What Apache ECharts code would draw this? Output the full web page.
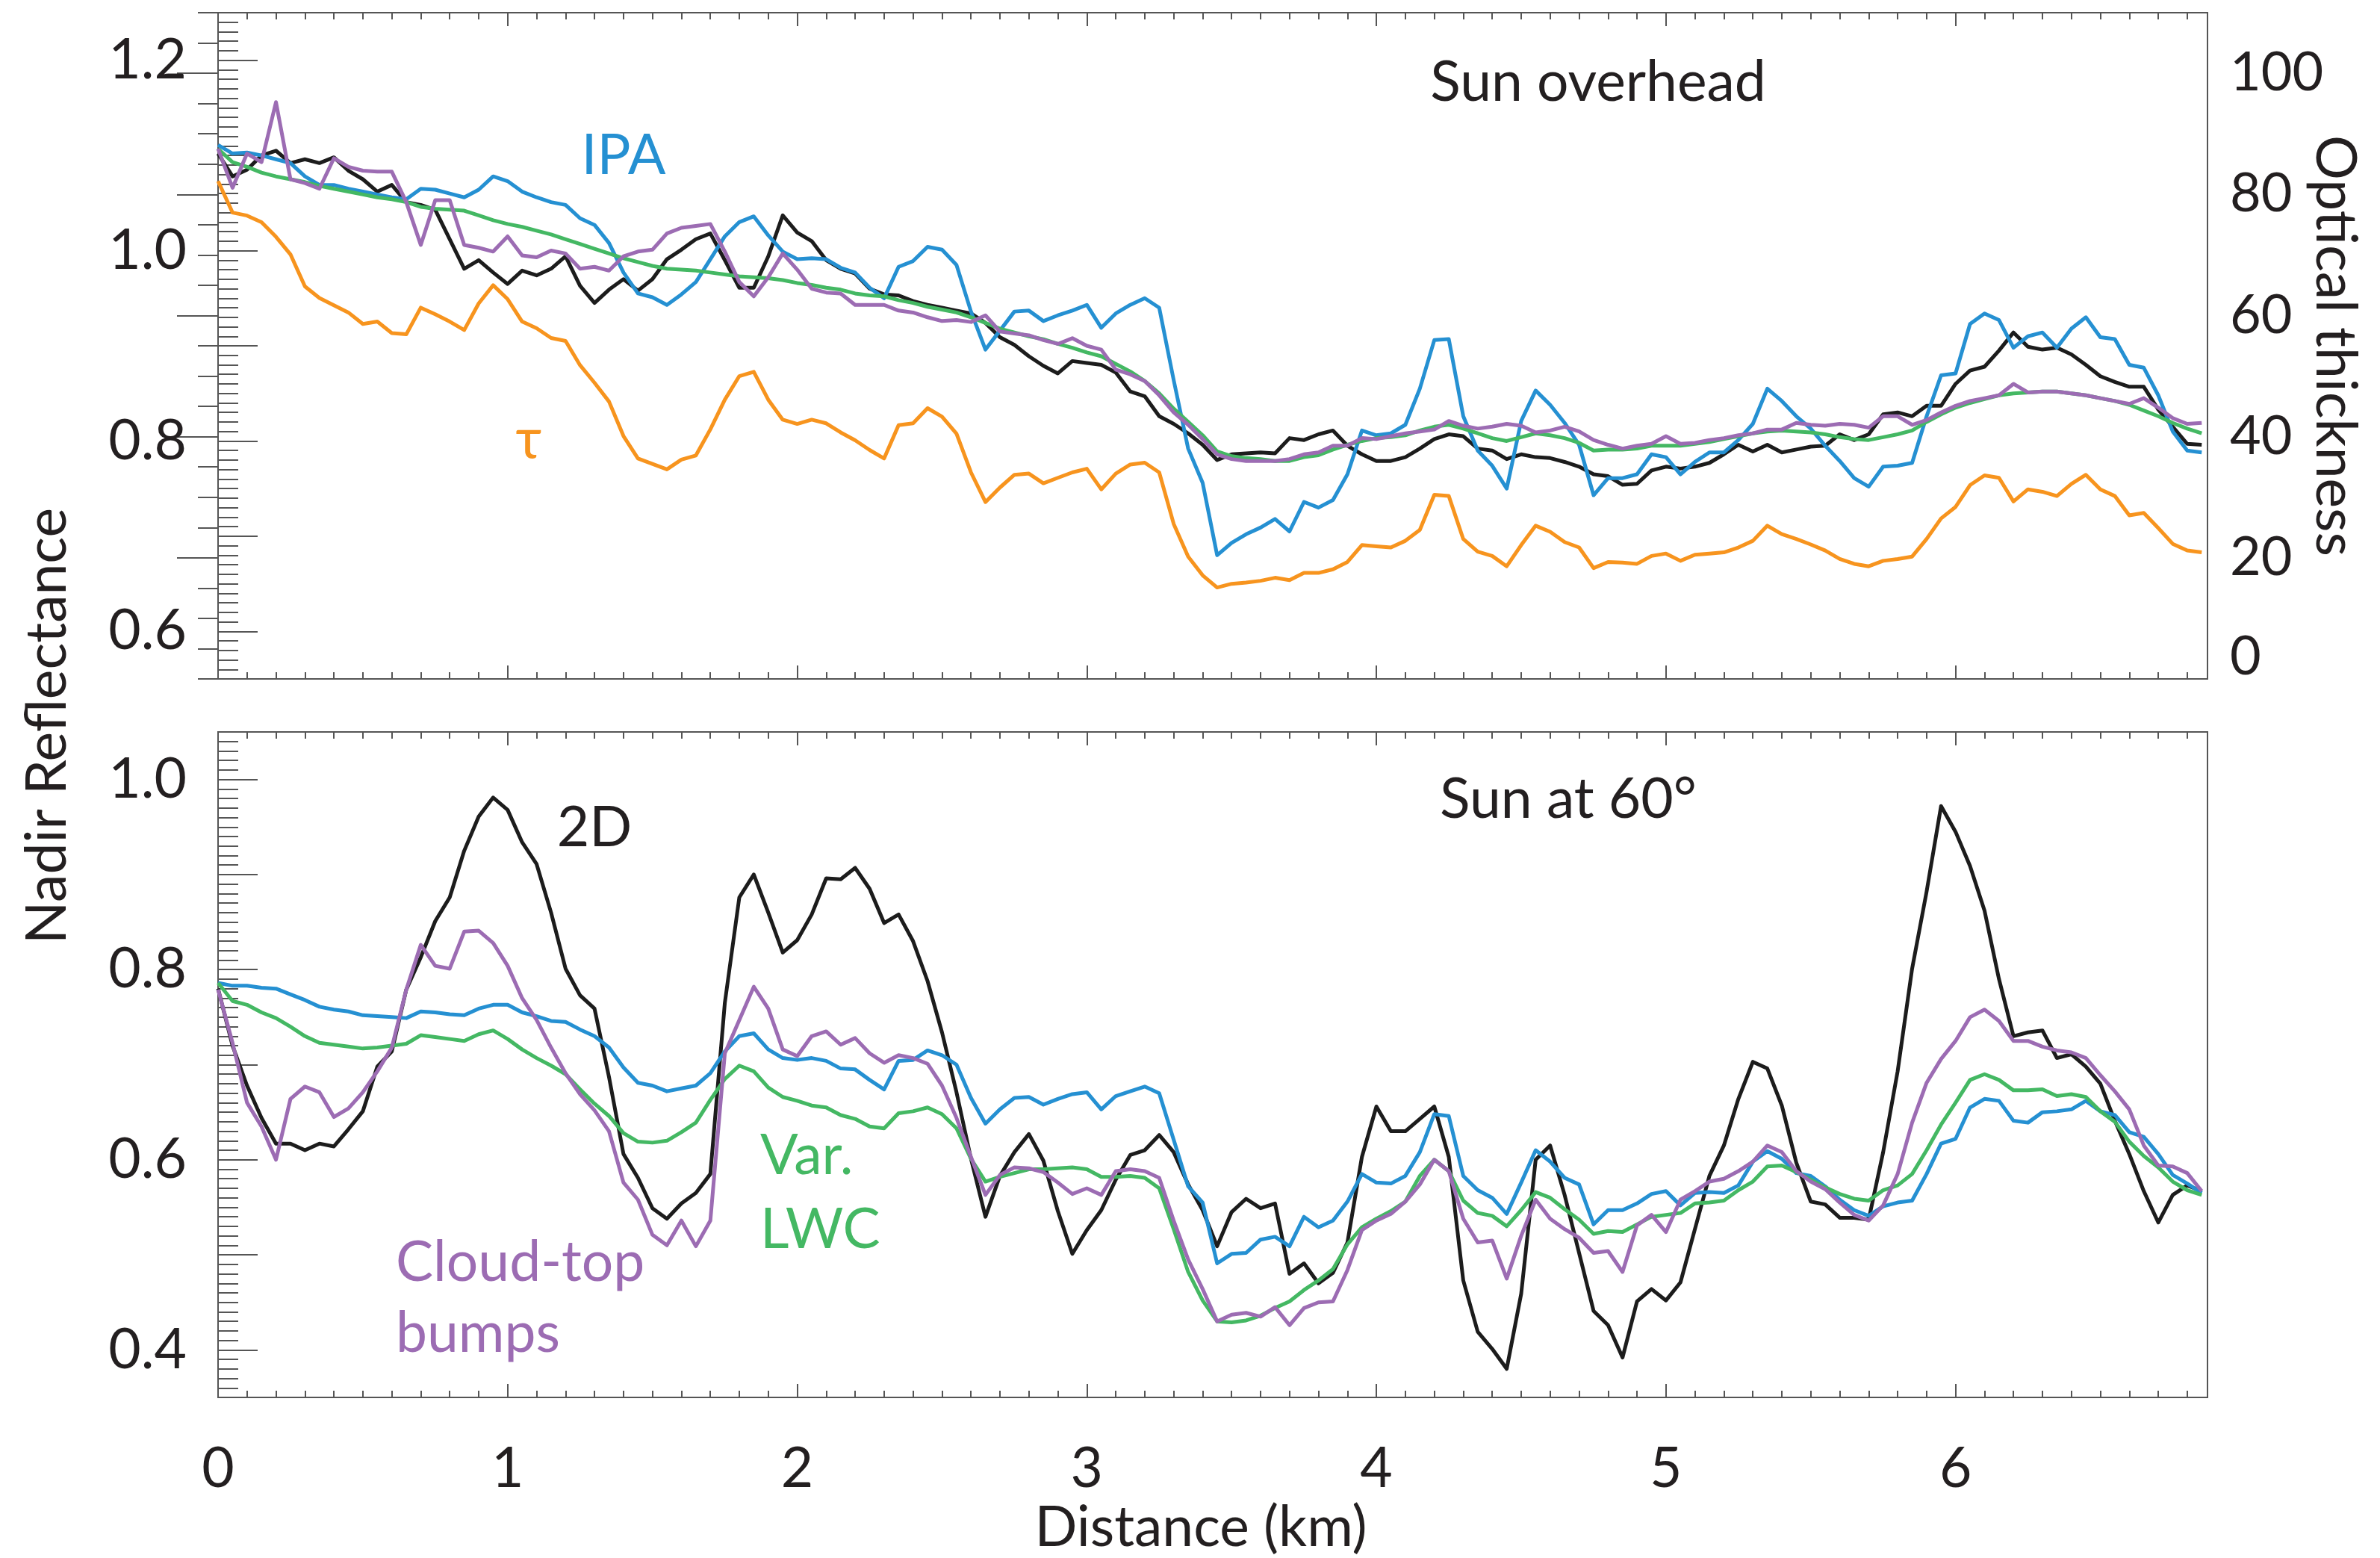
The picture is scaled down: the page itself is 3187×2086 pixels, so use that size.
<!DOCTYPE html>
<html>
<head>
<meta charset="utf-8">
<script src="https://cdn.jsdelivr.net/npm/echarts@6/dist/echarts.min.js"></script>
<style>
html, body { margin: 0; padding: 0; background: #fff; }
#chart { width: 3187px; height: 2086px; }
</style>
</head>
<body>
<div id="chart"></div>
<script>
// distance along the track (km), sampled every 0.05 km
var distKm = [
  0.00,0.05,0.10,0.15,0.20,0.25,0.30,0.35,0.40,0.45,0.50,0.55,0.60,0.65,0.70,0.75,0.80,0.85,0.90,0.95,
  1.00,1.05,1.10,1.15,1.20,1.25,1.30,1.35,1.40,1.45,1.50,1.55,1.60,1.65,1.70,1.75,1.80,1.85,1.90,1.95,
  2.00,2.05,2.10,2.15,2.20,2.25,2.30,2.35,2.40,2.45,2.50,2.55,2.60,2.65,2.70,2.75,2.80,2.85,2.90,2.95,
  3.00,3.05,3.10,3.15,3.20,3.25,3.30,3.35,3.40,3.45,3.50,3.55,3.60,3.65,3.70,3.75,3.80,3.85,3.90,3.95,
  4.00,4.05,4.10,4.15,4.20,4.25,4.30,4.35,4.40,4.45,4.50,4.55,4.60,4.65,4.70,4.75,4.80,4.85,4.90,4.95,
  5.00,5.05,5.10,5.15,5.20,5.25,5.30,5.35,5.40,5.45,5.50,5.55,5.60,5.65,5.70,5.75,5.80,5.85,5.90,5.95,
  6.00,6.05,6.10,6.15,6.20,6.25,6.30,6.35,6.40,6.45,6.50,6.55,6.60,6.65,6.70,6.75,6.80,6.85
];

// ---- top panel: sun overhead ----
var top2D = [
  1.102,1.078,1.085,1.100,1.105,1.092,1.096,1.092,1.098,1.084,
  1.075,1.062,1.069,1.051,1.048,1.043,1.012,0.981,0.990,0.977,
  0.965,0.979,0.974,0.981,0.994,0.963,0.945,0.959,0.970,0.958,
  0.970,0.991,1.001,1.012,1.018,0.990,0.961,0.961,0.994,1.037,
  1.019,1.010,0.990,0.981,0.976,0.960,0.954,0.953,0.947,0.943,
  0.940,0.937,0.934,0.924,0.909,0.901,0.889,0.879,0.871,0.884,
  0.882,0.880,0.872,0.852,0.847,0.826,0.818,0.808,0.796,0.780,
  0.786,0.787,0.788,0.787,0.803,0.801,0.807,0.811,0.795,0.786,
  0.779,0.779,0.783,0.792,0.802,0.807,0.805,0.792,0.790,0.781,
  0.786,0.783,0.782,0.778,0.773,0.765,0.763,0.754,0.755,0.769,
  0.773,0.771,0.773,0.777,0.786,0.796,0.789,0.796,0.788,0.791,
  0.794,0.795,0.807,0.801,0.807,0.828,0.830,0.826,0.837,0.837,
  0.860,0.874,0.878,0.895,0.914,0.899,0.896,0.898,0.891,0.880,
  0.868,0.862,0.857,0.857,0.833,0.815,0.797,0.796
];
var topIPA = [
  1.111,1.102,1.103,1.100,1.096,1.092,1.078,1.069,1.069,1.065,
  1.062,1.059,1.056,1.054,1.065,1.064,1.060,1.056,1.064,1.078,
  1.073,1.062,1.056,1.051,1.048,1.034,1.027,1.008,0.977,0.955,
  0.951,0.943,0.954,0.967,0.991,1.015,1.030,1.036,1.016,0.999,
  0.991,0.992,0.991,0.982,0.977,0.961,0.950,0.983,0.989,1.004,
  1.001,0.985,0.936,0.896,0.916,0.936,0.937,0.926,0.932,0.937,
  0.943,0.919,0.934,0.943,0.950,0.940,0.864,0.792,0.756,0.680,
  0.693,0.702,0.709,0.718,0.705,0.736,0.730,0.738,0.765,0.811,
  0.806,0.808,0.817,0.855,0.906,0.907,0.826,0.790,0.774,0.750,
  0.821,0.853,0.838,0.819,0.796,0.743,0.761,0.761,0.765,0.786,
  0.783,0.765,0.778,0.788,0.788,0.801,0.818,0.855,0.842,0.826,
  0.813,0.795,0.779,0.761,0.752,0.773,0.774,0.777,0.826,0.869,
  0.871,0.923,0.934,0.927,0.898,0.910,0.914,0.898,0.918,0.930,
  0.909,0.907,0.880,0.877,0.848,0.810,0.790,0.788
];
var topBumps = [
  1.107,1.066,1.102,1.093,1.156,1.075,1.071,1.065,1.097,1.088,
  1.084,1.083,1.083,1.051,1.006,1.053,1.053,1.006,1.003,0.999,
  1.015,0.995,0.993,1.000,0.997,0.981,0.983,0.979,0.994,0.999,
  1.001,1.018,1.024,1.026,1.028,0.999,0.967,0.952,0.972,0.997,
  0.980,0.960,0.956,0.955,0.943,0.943,0.943,0.937,0.935,0.930,
  0.926,0.927,0.925,0.932,0.915,0.913,0.911,0.906,0.902,0.908,
  0.900,0.896,0.875,0.870,0.863,0.848,0.830,0.817,0.802,0.786,
  0.781,0.779,0.779,0.779,0.781,0.786,0.788,0.795,0.795,0.803,
  0.802,0.805,0.808,0.810,0.812,0.821,0.816,0.813,0.815,0.818,
  0.816,0.809,0.811,0.815,0.810,0.801,0.796,0.792,0.795,0.797,
  0.805,0.797,0.798,0.801,0.803,0.806,0.808,0.812,0.812,0.819,
  0.817,0.816,0.818,0.817,0.814,0.826,0.826,0.817,0.822,0.830,
  0.837,0.842,0.845,0.848,0.860,0.851,0.852,0.852,0.850,0.848,
  0.845,0.842,0.839,0.845,0.835,0.824,0.818,0.819
];
var topLWC = [
  1.107,1.093,1.088,1.082,1.078,1.075,1.072,1.068,1.065,1.062,
  1.059,1.056,1.054,1.051,1.046,1.044,1.043,1.042,1.037,1.032,
  1.028,1.025,1.021,1.017,1.012,1.007,1.002,0.997,0.992,0.988,
  0.984,0.981,0.980,0.979,0.977,0.975,0.973,0.972,0.971,0.969,
  0.966,0.964,0.961,0.959,0.955,0.953,0.952,0.948,0.945,0.941,
  0.938,0.935,0.930,0.924,0.918,0.914,0.910,0.907,0.902,0.898,
  0.893,0.889,0.881,0.873,0.863,0.850,0.834,0.820,0.806,0.789,
  0.784,0.782,0.781,0.779,0.779,0.783,0.785,0.791,0.796,0.800,
  0.803,0.804,0.806,0.811,0.815,0.817,0.813,0.808,0.803,0.800,
  0.804,0.808,0.806,0.803,0.798,0.790,0.791,0.791,0.792,0.795,
  0.795,0.795,0.797,0.799,0.802,0.805,0.808,0.810,0.811,0.810,
  0.809,0.807,0.804,0.802,0.801,0.804,0.807,0.811,0.820,0.828,
  0.835,0.840,0.844,0.848,0.850,0.851,0.852,0.852,0.850,0.848,
  0.845,0.842,0.838,0.832,0.826,0.819,0.813,0.808
];
// optical thickness (right axis)
var topTau = [
  82.2,77.0,76.5,75.4,73.0,70.1,64.8,62.9,61.7,60.5,
  58.6,59.0,57.1,56.9,61.3,60.2,59.0,57.6,62.0,65.0,
  62.7,59.0,57.9,56.3,55.8,51.8,48.9,45.8,40.1,36.4,
  35.5,34.6,36.2,36.9,41.2,46.1,50.0,50.7,46.1,42.8,
  42.1,42.8,42.2,40.7,39.4,37.8,36.4,41.9,42.2,44.7,
  43.3,40.5,34.1,29.2,31.6,33.7,33.9,32.3,33.2,34.1,
  34.7,31.3,33.9,35.4,35.7,34.1,25.6,20.2,17.1,15.1,
  15.7,15.9,16.2,16.7,16.3,17.5,17.5,18.1,19.3,22.1,
  21.9,21.7,22.8,24.6,30.4,30.2,23.1,21.0,20.3,18.6,
  22.1,25.3,24.3,22.6,21.7,18.3,19.3,19.2,19.0,20.3,
  20.7,19.5,20.5,20.7,20.9,21.7,22.8,25.3,23.9,23.1,
  22.2,21.2,19.8,19.0,18.6,19.5,19.8,20.2,23.1,26.5,
  28.4,32.0,33.6,33.2,29.3,31.3,30.9,30.2,32.2,33.7,
  31.3,30.2,27.0,27.4,24.9,22.3,21.2,20.9
];

// ---- bottom panel: sun at 60 degrees ----
var bot2D = [
  0.780,0.720,0.678,0.644,0.617,0.617,0.610,0.617,0.614,0.632,
  0.651,0.698,0.714,0.779,0.813,0.851,0.876,0.925,0.961,0.981,
  0.968,0.934,0.911,0.860,0.801,0.773,0.759,0.687,0.606,0.581,
  0.549,0.538,0.554,0.565,0.585,0.765,0.876,0.900,0.860,0.818,
  0.831,0.858,0.896,0.895,0.907,0.885,0.849,0.858,0.830,0.788,
  0.734,0.671,0.601,0.540,0.583,0.608,0.627,0.599,0.546,0.501,
  0.526,0.547,0.579,0.605,0.610,0.626,0.608,0.574,0.547,0.509,
  0.545,0.559,0.549,0.554,0.480,0.491,0.470,0.481,0.513,0.603,
  0.656,0.630,0.630,0.643,0.656,0.603,0.473,0.419,0.401,0.380,
  0.459,0.600,0.615,0.563,0.502,0.441,0.426,0.392,0.451,0.464,
  0.452,0.471,0.527,0.583,0.615,0.664,0.703,0.696,0.657,0.597,
  0.556,0.553,0.539,0.539,0.537,0.608,0.693,0.801,0.882,0.972,
  0.945,0.909,0.862,0.790,0.730,0.734,0.736,0.707,0.711,0.698,
  0.680,0.641,0.606,0.567,0.534,0.563,0.573,0.567
];
var botIPA = [
  0.786,0.783,0.783,0.781,0.780,0.774,0.768,0.761,0.758,0.756,
  0.752,0.751,0.750,0.749,0.756,0.755,0.753,0.752,0.759,0.763,
  0.763,0.755,0.751,0.746,0.745,0.737,0.730,0.718,0.697,0.681,
  0.678,0.672,0.675,0.678,0.691,0.714,0.730,0.733,0.716,0.707,
  0.705,0.707,0.704,0.696,0.695,0.684,0.674,0.704,0.705,0.715,
  0.710,0.700,0.665,0.638,0.653,0.665,0.666,0.658,0.664,0.669,
  0.671,0.653,0.667,0.672,0.677,0.670,0.621,0.572,0.555,0.491,
  0.501,0.502,0.516,0.519,0.509,0.540,0.529,0.536,0.556,0.585,
  0.576,0.575,0.583,0.608,0.648,0.646,0.583,0.568,0.560,0.543,
  0.576,0.610,0.598,0.581,0.574,0.532,0.547,0.547,0.554,0.564,
  0.567,0.552,0.565,0.566,0.565,0.573,0.598,0.609,0.601,0.586,
  0.583,0.572,0.558,0.547,0.541,0.551,0.555,0.557,0.585,0.617,
  0.622,0.655,0.664,0.662,0.641,0.639,0.650,0.651,0.653,0.662,
  0.651,0.647,0.629,0.624,0.606,0.584,0.575,0.565
];
var botBumps = [
  0.779,0.723,0.660,0.635,0.600,0.664,0.677,0.671,0.645,0.654,
  0.671,0.693,0.718,0.779,0.826,0.804,0.801,0.840,0.841,0.828,
  0.804,0.770,0.747,0.718,0.691,0.669,0.652,0.630,0.576,0.558,
  0.521,0.510,0.536,0.509,0.536,0.712,0.747,0.782,0.759,0.716,
  0.709,0.730,0.735,0.721,0.728,0.712,0.702,0.710,0.707,0.701,
  0.678,0.644,0.603,0.563,0.584,0.592,0.591,0.587,0.576,0.564,
  0.570,0.563,0.588,0.590,0.588,0.581,0.536,0.495,0.464,0.430,
  0.437,0.439,0.435,0.445,0.426,0.444,0.450,0.451,0.484,0.526,
  0.536,0.543,0.556,0.574,0.600,0.588,0.538,0.513,0.515,0.475,
  0.520,0.558,0.538,0.527,0.518,0.502,0.504,0.482,0.531,0.542,
  0.524,0.558,0.567,0.577,0.580,0.588,0.598,0.615,0.608,0.588,
  0.577,0.569,0.555,0.542,0.536,0.552,0.585,0.639,0.681,0.706,
  0.725,0.750,0.758,0.746,0.725,0.725,0.719,0.715,0.713,0.707,
  0.689,0.672,0.653,0.615,0.594,0.593,0.586,0.567
];
var botLWC = [
  0.786,0.767,0.763,0.755,0.749,0.740,0.730,0.723,0.721,0.719,
  0.717,0.718,0.720,0.722,0.731,0.729,0.727,0.725,0.732,0.736,
  0.727,0.716,0.707,0.699,0.690,0.674,0.659,0.646,0.628,0.619,
  0.618,0.620,0.629,0.639,0.663,0.685,0.699,0.693,0.676,0.666,
  0.662,0.657,0.655,0.647,0.643,0.635,0.633,0.649,0.651,0.655,
  0.648,0.633,0.601,0.577,0.582,0.586,0.590,0.590,0.591,0.592,
  0.590,0.582,0.582,0.583,0.581,0.570,0.527,0.482,0.452,0.430,
  0.429,0.431,0.436,0.444,0.451,0.463,0.473,0.485,0.511,0.529,
  0.538,0.546,0.556,0.583,0.600,0.588,0.557,0.544,0.541,0.530,
  0.547,0.566,0.560,0.548,0.537,0.522,0.525,0.524,0.532,0.540,
  0.542,0.544,0.554,0.555,0.557,0.568,0.577,0.593,0.594,0.587,
  0.579,0.571,0.564,0.559,0.557,0.568,0.573,0.585,0.610,0.637,
  0.660,0.684,0.690,0.684,0.673,0.673,0.674,0.667,0.669,0.666,
  0.651,0.640,0.619,0.604,0.592,0.577,0.568,0.563
];

// tick / label values
var xLabelKm = [0, 1, 2, 3, 4, 5, 6];
var topReflTicks = [0.6, 0.7, 0.8, 0.9, 1.0, 1.1, 1.2];
var topReflLabels = [0.6, 0.8, 1.0, 1.2];
var botReflTicks = [0.4, 0.5, 0.6, 0.7, 0.8, 0.9, 1.0];
var botReflLabels = [0.4, 0.6, 0.8, 1.0];
var tauLabels = [0, 20, 40, 60, 80, 100];

var FONT = "Lato, 'Open Sans', sans-serif";
var INK = "#231f20";
var FRAME = "#555555";
var BLUE = "#2590d2", ORANGE = "#f7941e", GREEN = "#44b863", PURPLE = "#9c6cb3", BLACK = "#1c1c1c";
var FS = 75;

function pairs(ys) {
  return distKm.map(function (x, i) { return [x, ys[i]]; });
}

function xAx(g, pos, step, len, showLabel) {
  return {
    type: "value", gridIndex: g, position: pos, min: 0, max: 6.87, interval: step,
    axisLine: { show: false }, splitLine: { show: false },
    axisTick: { show: true, inside: true, length: len, lineStyle: { color: FRAME, width: 2 } },
    axisLabel: {
      show: showLabel, margin: 58, fontSize: FS, fontFamily: FONT, color: INK,
      customValues: xLabelKm, formatter: function (v) { return String(v); }
    }
  };
}

function yAx(g, pos, min, max, step, len, extra) {
  var a = {
    type: "value", gridIndex: g, position: pos, min: min, max: max, interval: step,
    axisLine: { show: false }, splitLine: { show: false },
    axisTick: { show: true, inside: true, length: len, lineStyle: { color: FRAME, width: 2 } },
    axisLabel: { show: false }
  };
  if (extra) {
    if (extra.ticks) a.axisTick.customValues = extra.ticks;
    if (extra.labels) {
      a.axisLabel = {
        show: true, customValues: extra.labels, margin: extra.margin,
        fontSize: extra.fs || FS, fontFamily: FONT, color: INK, formatter: extra.fmt, rich: extra.rich
      };
    }
  }
  return a;
}

function line(name, xi, yi, data, color) {
  return {
    name: name, type: "line", xAxisIndex: xi, yAxisIndex: yi, data: pairs(data),
    showSymbol: false, symbol: "none", animation: false,
    lineStyle: { color: color, width: 5, join: "round" }, itemStyle: { color: color }
  };
}

function label(text, x, y, color, opt) {
  opt = opt || {};
  return {
    type: "text", x: x, y: y, rotation: opt.rot || 0, z: 100,
    style: {
      text: text, fill: color, fontSize: opt.fs || FS, fontFamily: FONT,
      align: opt.align || "center", verticalAlign: "middle"
    }
  };
}

var chart = echarts.init(document.getElementById("chart"), null, { renderer: "canvas" });
chart.setOption({
  backgroundColor: "#ffffff",
  animation: false,
  grid: [
    { left: 292, top: 17, width: 2664, height: 892, show: true, borderColor: FRAME, borderWidth: 2, backgroundColor: "transparent" },
    { left: 292, top: 980, width: 2664, height: 891, show: true, borderColor: FRAME, borderWidth: 2, backgroundColor: "transparent" }
  ],
  xAxis: [
    xAx(0, "bottom", 1, 18, false),
    xAx(0, "bottom", 0.1, 9, false),
    xAx(0, "top", 1, 18, false),
    xAx(0, "top", 0.1, 9, false),
    xAx(1, "bottom", 1, 18, true),
    xAx(1, "bottom", 0.1, 9, false),
    xAx(1, "top", 1, 18, false),
    xAx(1, "top", 0.1, 9, false)
  ],
  yAxis: [
    yAx(0, "left", 0.55, 1.25, 0.05, 53, {
      ticks: topReflTicks, labels: topReflLabels, margin: 42,
      fmt: function (v) { return v.toFixed(1); }
    }),
    yAx(0, "left", 0.55, 1.25, 0.01, 27),
    yAx(0, "right", 0, 110, 5, 27),
    yAx(0, "right", 0, 110, 20, 55, {
      ticks: [20, 40, 60, 80, 100], labels: tauLabels, margin: 30, fs: 72,
      fmt: function (v) { return v === 0 ? "{lo|0}" : String(v); },
      rich: { lo: { fontSize: 72, fontFamily: FONT, color: INK, padding: [0, 0, 58, 0] } }
    }),
    yAx(1, "left", 0.35, 1.05, 0.05, 53, {
      ticks: botReflTicks, labels: botReflLabels, margin: 42,
      fmt: function (v) { return v.toFixed(1); }
    }),
    yAx(1, "left", 0.35, 1.05, 0.01, 27)
  ],
  series: [
    line("2D", 0, 0, top2D, BLACK),
    line("IPA", 0, 0, topIPA, BLUE),
    line("Var. LWC", 0, 0, topLWC, GREEN),
    line("Cloud-top bumps", 0, 0, topBumps, PURPLE),
    line("tau", 0, 3, topTau, ORANGE),
    line("2D 60", 4, 4, bot2D, BLACK),
    line("IPA 60", 4, 4, botIPA, BLUE),
    line("Var. LWC 60", 4, 4, botLWC, GREEN),
    line("Cloud-top bumps 60", 4, 4, botBumps, PURPLE)
  ],
  graphic: [
    label("Nadir Reflectance", 64, 972, INK, { rot: Math.PI / 2 }),
    label("Optical thickness", 3126, 463, INK, { rot: -Math.PI / 2 }),
    label("Distance (km)", 1608, 2046, INK),
    label("Sun overhead", 2140, 111, INK),
    label("IPA", 835, 209, BLUE),
    label("\u03c4", 708, 590, ORANGE),
    label("Sun at 60\u00b0", 2100, 1071, INK),
    label("2D", 796, 1109, INK),
    label("Var.", 1018, 1548, GREEN, { align: "left" }),
    label("LWC", 1018, 1647, GREEN, { align: "left" }),
    label("Cloud-top", 530, 1691, PURPLE, { align: "left" }),
    label("bumps", 530, 1786, PURPLE, { align: "left" })
  ]
});
</script>
</body>
</html>
